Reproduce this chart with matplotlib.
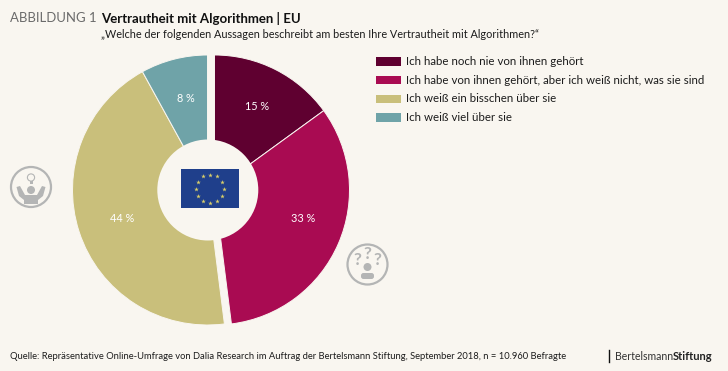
import numpy as np
import matplotlib
matplotlib.use("Agg")
import matplotlib.pyplot as plt
from matplotlib.patches import Circle, Rectangle, Polygon, FancyBboxPatch

labels = ["Ich habe noch nie von ihnen gehört",
          "Ich habe von ihnen gehört, aber ich weiß nicht, was sie sind",
          "Ich weiß ein bisschen über sie",
          "Ich weiß viel über sie"]
values = [15, 33, 44, 8]
colors = ["#5f0030", "#a90b52", "#c9bf7b", "#6fa3a8"]
value_text = ["15 %", "33 %", "44 %", "8 %"]

BG = "#f9f6f0"
GREY = "#b4b5b5"
H = 371

plt.rcParams['font.family'] = ['Lato', 'DejaVu Sans']

fig = plt.figure(figsize=(7.28, 3.71), dpi=100, facecolor=BG)
ax = fig.add_axes([0, 0, 1, 1])

def Y(y):
    return H - y

# shrink a text until it is as wide as in the reference
def fit(t, width):
    w = t.get_window_extent(fig.canvas.get_renderer()).width
    t.set_fontsize(t.get_fontsize() * width / w)

# donut: the first two slices are pushed to the right
wedges, _ = ax.pie(values, colors=colors, startangle=90, counterclock=False,
                   radius=135, center=(207.5, Y(190)), frame=True,
                   wedgeprops=dict(edgecolor=BG, linewidth=0.7))
ax.set_xlim(0, 728)
ax.set_ylim(0, H)
ax.set_aspect("auto")
ax.axis("off")
wedges[0].set_center((214.5, Y(190)))
wedges[1].set_center((214.5, Y(190)))
ax.add_patch(Circle((207.8, Y(190)), 50.5, fc=BG, ec="none", zorder=3))

label_pos = [(257, 107), (303, 219), (122, 219), (186, 98)]
for t, (x, y) in zip(value_text, label_pos):
    ax.text(x, Y(y), t, color="white", fontsize=7.8, ha="center", va="center", zorder=4)

# EU flag
ax.add_patch(Rectangle((181, Y(208)), 58, 39, fc="#1f3f8b", ec="none", zorder=4))
star_ang = np.arange(12) * 2 * np.pi / 12
ax.scatter(209.8 + 14 * np.sin(star_ang), Y(188.5) + 14 * np.cos(star_ang), marker="*",
           s=12, c="#d9cf6a", linewidths=0, zorder=5)

# legend
widths = [176, 297, 150, 105]
for i, (lab, col) in enumerate(zip(labels, colors)):
    y = 61.3 + i * 18.7
    ax.add_patch(Rectangle((376, Y(y + 4.2)), 25, 8.4, fc=col, ec="none"))
    t = ax.text(405.5, Y(y), lab, color="#1c1c1c", fontsize=8.6, va="center", ha="left")
    fit(t, widths[i])

# heading
t = ax.text(10, Y(18.5), "ABBILDUNG 1", color="#6a6a6a", fontsize=11, va="center")
fit(t, 86)
t = ax.text(101, Y(18.5), "Vertrautheit mit Algorithmen | EU", color="#111111", fontsize=10.6,
            fontweight="bold", va="center")
fit(t, 200)
t = ax.text(101, Y(35), "„Welche der folgenden Aussagen beschreibt am besten Ihre Vertrautheit mit Algorithmen?“",
            color="#1c1c1c", fontsize=8.9, va="center")
fit(t, 437)

# footer
t = ax.text(10, Y(356.5), "Quelle: Repräsentative Online-Umfrage von Dalia Research im Auftrag der "
            "Bertelsmann Stiftung, September 2018, n = 10.960 Befragte",
            color="#1c1c1c", fontsize=7.9, va="center")
fit(t, 564)
ax.plot([609, 609], [Y(350), Y(362)], color="#111111", lw=1)
t = ax.text(614.5, Y(356), "Bertelsmann", color="#333333", fontsize=8.2, va="center")
fit(t, 58)
t = ax.text(673, Y(356), "Stiftung", color="#222222", fontsize=8.2, fontweight="bold", va="center")
fit(t, 40)

# left icon: person with raised arms and a light bulb
ax.add_patch(Circle((31, Y(187)), 20, fc="none", ec=GREY, lw=1.6))
ax.add_patch(Circle((31, Y(190)), 4, fc=GREY, ec="none"))
ax.add_patch(Polygon([(16.5, Y(187)), (20, Y(186)), (25, Y(195)), (37, Y(195)), (42, Y(186)), (45.5, Y(187)),
                      (43, Y(196)), (38, Y(200)), (38, Y(204)), (24, Y(204)), (24, Y(200)), (19, Y(196))],
                     closed=True, fc=GREY, ec="none"))
ax.add_patch(Circle((31, Y(177.5)), 3.6, fc=BG, ec=GREY, lw=0.8))
ax.add_patch(Rectangle((29.5, Y(184)), 3, 3, fc=GREY, ec="none"))

# right icon: person with question marks
ax.add_patch(Circle((367.5, Y(264.5)), 20, fc="none", ec=GREY, lw=1.6))
ax.add_patch(Circle((367.5, Y(267)), 4, fc=GREY, ec="none"))
ax.add_patch(FancyBboxPatch((361, Y(279)), 13, 6, boxstyle="round,pad=0,rounding_size=2.5", fc=GREY, ec="none"))
for x, y in [(357, 260), (367.7, 254), (377.5, 260)]:
    ax.text(x, Y(y), "?", color=GREY, fontsize=12.5, fontweight="bold", ha="center", va="center")

fig.savefig("out.png", dpi=100, facecolor=BG)
